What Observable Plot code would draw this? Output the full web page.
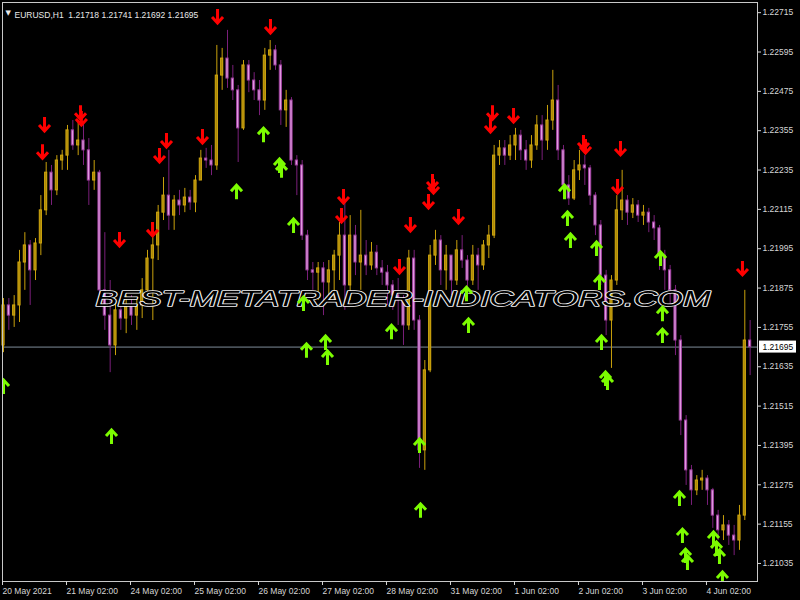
<!DOCTYPE html>
<html><head><meta charset="utf-8">
<script src="https://cdn.jsdelivr.net/npm/d3@7"></script>
<script src="https://cdn.jsdelivr.net/npm/@observablehq/plot@0.6"></script>
<style>
html,body{margin:0;padding:0;background:#000;}
#chart svg{display:block}
</style></head><body><div id="chart"></div>
<script>
// ---- data (EURUSD, 2-hour candles) ----
const headerText = "EURUSD,H1  1.21718 1.21741 1.21692 1.21695";
const watermark = "BEST-METATRADER-INDICATORS.COM";
const lastPrice = 1.21695;
const firstOpen = 1.21700;
const closes = [
1.21822,1.21791,1.21822,1.21953,1.22005,1.21929,1.22011,1.22112,1.22227,1.22173,
1.22264,1.22279,1.22356,1.22310,1.22325,1.22295,1.22203,1.22227,1.21868,1.21791,
1.21700,1.21807,1.21782,1.21822,1.21791,1.21822,1.21868,1.21965,1.22005,1.22105,
1.22157,1.22096,1.22142,1.22127,1.22151,1.22136,1.22203,1.22270,1.22264,1.22249,
1.22523,1.22575,1.22514,1.22478,1.22362,1.22554,1.22508,1.22478,1.22447,1.22584,
1.22600,1.22554,1.22417,1.22447,1.22264,1.22249,1.22035,1.21929,1.21922,1.21935,
1.21892,1.21929,1.21974,1.22035,1.21883,1.22035,1.21953,1.21974,1.21944,1.21983,
1.21935,1.21922,1.21883,1.21852,1.21837,1.21761,1.21965,1.21776,1.21380,1.21624,
1.21974,1.22020,1.21929,1.21974,1.21898,1.21990,1.21959,1.21898,1.21974,1.21944,
1.22005,1.22035,1.22279,1.22301,1.22279,1.22310,1.22340,1.22295,1.22264,1.22310,
1.22371,1.22325,1.22386,1.22447,1.22295,1.22188,1.22148,1.22234,1.22249,1.22240,
1.22157,1.22066,1.21913,1.21776,1.21898,1.22112,1.22142,1.22105,1.22127,1.22096,
1.22105,1.22075,1.22057,1.21974,1.21929,1.21868,1.21715,1.21471,1.21319,1.21258,
1.21288,1.21294,1.21258,1.21181,1.21136,1.21151,1.21120,1.21105,1.21181,1.21715,
1.21695];
const highs = [
1.21843,1.21843,1.21852,1.21990,1.22044,1.22020,1.22026,1.22157,1.22258,1.22249,
1.22279,1.22295,1.22371,1.22386,1.22386,1.22380,1.22331,1.22264,1.22234,1.22044,
1.21898,1.21837,1.21837,1.21852,1.21852,1.21843,1.21904,1.21990,1.22057,1.22127,
1.22212,1.22295,1.22157,1.22173,1.22179,1.22173,1.22218,1.22295,1.22301,1.22310,
1.22615,1.22606,1.22661,1.22554,1.22493,1.22569,1.22569,1.22532,1.22508,1.22606,
1.22630,1.22615,1.22569,1.22478,1.22456,1.22279,1.22264,1.22051,1.21953,1.21953,
1.21953,1.21959,1.21990,1.22075,1.22142,1.22096,1.22066,1.22112,1.22020,1.22014,
1.22005,1.21959,1.21944,1.21898,1.21904,1.21852,1.21990,1.21990,1.21791,1.21654,
1.22005,1.22051,1.22035,1.22005,1.21974,1.22020,1.22035,1.21974,1.22005,1.21996,
1.22020,1.22066,1.22310,1.22325,1.22325,1.22340,1.22362,1.22356,1.22325,1.22340,
1.22401,1.22401,1.22432,1.22539,1.22493,1.22310,1.22218,1.22264,1.22295,1.22279,
1.22249,1.22166,1.22081,1.21929,1.21913,1.22157,1.22234,1.22157,1.22148,1.22142,
1.22127,1.22118,1.22096,1.22066,1.21990,1.21944,1.21883,1.21730,1.21486,1.21334,
1.21303,1.21319,1.21303,1.21264,1.21197,1.21181,1.21166,1.21151,1.21212,1.21868,
1.21776];
const lows = [
1.21678,1.21746,1.21755,1.21770,1.21868,1.21822,1.21898,1.21974,1.22096,1.22127,
1.22157,1.22234,1.22234,1.22295,1.22279,1.22249,1.22127,1.22173,1.21837,1.21746,
1.21617,1.21669,1.21746,1.21736,1.21761,1.21746,1.21782,1.21852,1.21776,1.21959,
1.22081,1.22051,1.22051,1.22096,1.22105,1.22112,1.22105,1.22203,1.22240,1.22218,
1.22234,1.22478,1.22484,1.22447,1.22258,1.22356,1.22471,1.22447,1.22401,1.22417,
1.22539,1.22539,1.22371,1.22365,1.22249,1.22157,1.22020,1.21898,1.21868,1.21837,
1.21791,1.21852,1.21837,1.21898,1.21807,1.21837,1.21913,1.21868,1.21913,1.21929,
1.21913,1.21883,1.21822,1.21807,1.21761,1.21700,1.21746,1.21746,1.21325,1.21319,
1.21617,1.21944,1.21883,1.21868,1.21852,1.21883,1.21935,1.21868,1.21883,1.21868,
1.21929,1.21965,1.22026,1.22249,1.22249,1.22264,1.22264,1.22264,1.22234,1.22240,
1.22295,1.22264,1.22295,1.22356,1.22264,1.22157,1.22127,1.22142,1.22203,1.22188,
1.22127,1.22035,1.21883,1.21730,1.21630,1.21883,1.22081,1.22066,1.22087,1.22075,
1.22066,1.22044,1.22020,1.21929,1.21868,1.21822,1.21669,1.21425,1.21273,1.21212,
1.21242,1.21258,1.21212,1.21142,1.21105,1.21105,1.21090,1.21059,1.21075,1.21166,
1.21608];
const timeTickIndex = [0,12,24,36,48,60,72,84,96,108,120,132];
const timeTickLabels = ["20 May 2021","21 May 02:00","24 May 02:00","25 May 02:00","26 May 02:00","27 May 02:00",
  "28 May 02:00","31 May 02:00","1 Jun 02:00","2 Jun 02:00","3 Jun 02:00","4 Jun 02:00"];
const priceTicks = [1.22715,1.22595,1.22475,1.22355,1.22235,1.22115,1.21995,1.21875,1.21755,1.21635,1.21515,1.21395,1.21275,1.21155,1.21035];
const sellIdx = [7.69,7.31,14.44,14.6,21.75,27.94,29.25,30.56,37.31,40.13,50.06,63.75,63.38,76.3,74.25,80.44,80.63,79.69,85.31,91.69,91.31,95.63,108.75,109.13,115.69,115.13,138.56];
const sellPrice = [1.22374,1.22291,1.22410,1.22392,1.22023,1.22054,1.22279,1.22325,1.22337,1.22703,1.22673,1.22154,1.22096,1.22069,1.21941,1.22200,1.22185,1.22139,1.22093,1.22410,1.22371,1.22401,1.22319,1.22307,1.22301,1.22185,1.21935];
const buyIdx = [0,20.25,43.69,48.75,51.75,52.13,54.38,56.25,56.81,60.38,60.75,72.75,78,78.19,86.81,87.19,105.19,105.75,106.31,111.19,111.75,112.13,112.88,113.25,123.19,123.56,123.56,126.75,127.31,127.88,128.25,133.13,133.69,134.25,134.81];
const buyPrice = [1.21575,1.21422,1.22169,1.22343,1.22249,1.22234,1.22066,1.21828,1.21685,1.21709,1.21663,1.21742,1.21395,1.21197,1.21858,1.21761,1.22169,1.22087,1.22020,1.21996,1.21892,1.21709,1.21599,1.21587,1.21965,1.21797,1.21730,1.21233,1.21120,1.21059,1.21038,1.21111,1.21081,1.21056,1.20989];

// ---- build tables ----
const candles = closes.map((c, i) => {
  const o = i === 0 ? firstOpen : closes[i - 1];
  return {i, open: o, close: c, high: Math.max(highs[i], o, c), low: Math.min(lows[i], o, c), up: c >= o};
});
const upC = candles.filter(d => d.up), dnC = candles.filter(d => !d.up);
const sells = sellIdx.map((x, k) => ({x, p: sellPrice[k]}));
const buys = buyIdx.map((x, k) => ({x, p: buyPrice[k]}));

const arrowDown = {draw(ctx) {
  ctx.moveTo(0, -7.5); ctx.lineTo(0, 5.5);
  ctx.moveTo(-5.5, 0.5); ctx.lineTo(0, 6.5); ctx.lineTo(5.5, 0.5);
}};
const arrowUp = {draw(ctx) {
  ctx.moveTo(0, 7.5); ctx.lineTo(0, -5.5);
  ctx.moveTo(-5.5, -0.5); ctx.lineTo(0, -6.5); ctx.lineTo(5.5, -0.5);
}};

const font = "'Liberation Sans', Arial, sans-serif";
const chart = Plot.plot({
  width: 800, height: 600,
  marginTop: 2, marginLeft: 2, marginRight: 43, marginBottom: 19,
  style: {background: "#000", color: "#d6d6d6", fontFamily: font, fontSize: "8.5px"},
  x: {domain: [-0.19, 141.38], axis: null},
  y: {domain: [1.20980, 1.22746], axis: null},
  marks: [
    Plot.ruleY([lastPrice], {stroke: "#7f8c99", strokeWidth: 1}),
    Plot.ruleX(upC, {x: "i", y1: "low", y2: "high", stroke: "#c9a10c", strokeWidth: 1}),
    Plot.ruleX(dnC, {x: "i", y1: "low", y2: "high", stroke: "#7a1f7a", strokeWidth: 1}),
    Plot.rect(upC, {x1: d => d.i - 0.5, x2: d => d.i + 0.5, y1: "open", y2: "close", insetLeft: 1.6, insetRight: 1.6, fill: "#a8860a", stroke: "#d2a80e", strokeWidth: 1}),
    Plot.rect(dnC, {x1: d => d.i - 0.5, x2: d => d.i + 0.5, y1: "open", y2: "close", insetLeft: 1.6, insetRight: 1.6, fill: "#e6a4e6", stroke: "#a040a0", strokeWidth: 1}),
    Plot.text([watermark], {frameAnchor: "middle", dx: 23, dy: 7, text: d => d, fontSize: 22, fontStyle: "italic", fontWeight: "normal", fill: "#000", stroke: "#f0f0f0", strokeWidth: 1.6, fontFamily: font}),
    Plot.dot(sells, {x: "x", y: "p", symbol: arrowDown, r: 6, fill: "none", stroke: "#ff0000", strokeWidth: 3, strokeLinejoin: "miter", strokeLinecap: "butt", clip: true}),
    Plot.dot(buys, {x: "x", y: "p", symbol: arrowUp, r: 6, fill: "none", stroke: "#7cfc00", strokeWidth: 3, strokeLinejoin: "miter", strokeLinecap: "butt", clip: true}),
    Plot.frame({stroke: "#c8c8c8"}),
    Plot.axisY(priceTicks, {anchor: "right", tickSize: 3, tickPadding: 2, tickFormat: d => d.toFixed(5), label: null, fontSize: 8.5}),
    Plot.axisX(timeTickIndex, {anchor: "bottom", tickSize: 4, tickPadding: 2, textAnchor: "start", dx: -1, label: null, fontSize: 8.5,
      tickFormat: d => timeTickLabels[timeTickIndex.indexOf(d)]}),
    Plot.text([lastPrice], {y: d => d, frameAnchor: "right", dx: 5, textAnchor: "start", text: d => d.toFixed(5), fill: "#000", fontSize: 8.5}),
    Plot.text([headerText], {frameAnchor: "top-left", dx: 12, dy: 9, textAnchor: "start", fill: "#e8e8e8", fontSize: 8.5}),
    Plot.text(["▼"], {frameAnchor: "top-left", dx: 3, dy: 8, textAnchor: "start", fill: "#e8e8e8", fontSize: 7, fontFamily: "'DejaVu Sans', sans-serif"})
  ]
});
document.getElementById("chart").append(chart);

// stretch watermark to its width in the picture
const svg = d3.select(chart);
svg.selectAll("text").filter(function () { return this.textContent === watermark; })
  .attr("textLength", 615).attr("lengthAdjust", "spacingAndGlyphs");
// white box behind the current price label
const yPx = chart.scale("y").apply(lastPrice);
const lbl = svg.selectAll("text").filter(function () { return this.textContent === lastPrice.toFixed(5); }).node();
if (lbl) {
  const g = lbl.parentNode;
  const rect = document.createElementNS("http://www.w3.org/2000/svg", "rect");
  rect.setAttribute("x", 759); rect.setAttribute("y", yPx - 6);
  rect.setAttribute("width", 37); rect.setAttribute("height", 12);
  rect.setAttribute("fill", "#ffffff");
  g.parentNode.insertBefore(rect, g);
}
</script>
</body></html>
